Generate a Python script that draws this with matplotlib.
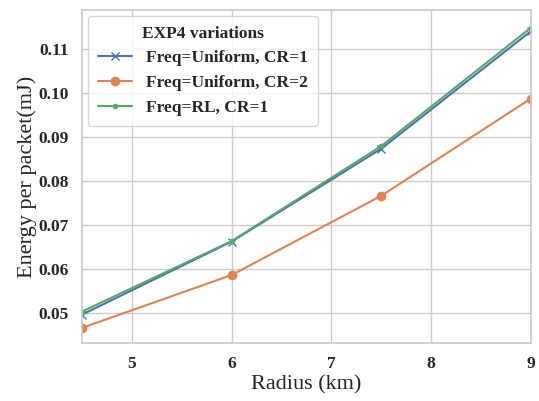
import numpy as np
import matplotlib
matplotlib.use('Agg')
import matplotlib.pyplot as plt
import seaborn as sns

# data
radius = [4.5, 6.0, 7.5, 9.0]
uniform_cr1 = [0.0496, 0.0662, 0.0873, 0.1140]
uniform_cr2 = [0.0466, 0.0586, 0.0766, 0.0987]
rl_cr1 = [0.0503, 0.0663, 0.0879, 0.1148]
labels = ['Freq=Uniform, CR=1', 'Freq=Uniform, CR=2', 'Freq=RL, CR=1']

sns.set_theme(style='whitegrid')
plt.rcParams['font.family'] = ['Liberation Serif', 'DejaVu Serif']
colors = sns.color_palette()

fig, ax = plt.subplots(figsize=(5.39, 4.01), dpi=100)

ax.plot(radius, uniform_cr1, marker='x', color=colors[0], lw=1.5, ms=6, label=labels[0])
ax.plot(radius, uniform_cr2, marker='o', color=colors[1], lw=1.5, ms=6, label=labels[1])
ax.plot(radius, rl_cr1, marker='.', color=colors[2], lw=1.5, ms=6, label=labels[2])

ax.set_xlim(4.5, 9.0)
ax.set_ylim(0.0432, 0.1188)
ax.set_xticks([5, 6, 7, 8, 9])
ax.set_yticks([0.05, 0.06, 0.07, 0.08, 0.09, 0.10, 0.11])
ax.set_yticklabels(['0.05', '0.06', '0.07', '0.08', '0.09', '0.10', '0.11'])
for t in ax.get_xticklabels() + ax.get_yticklabels():
    t.set_fontweight('bold')
    t.set_fontsize(12.5)

ax.set_xlabel('Radius (km)', fontsize=16, labelpad=2)
ax.set_ylabel('Energy per packet(mJ)', fontsize=16, labelpad=1)

leg = ax.legend(title='EXP4 variations', loc='upper left', prop={'weight': 'bold', 'size': 12.5},
                title_fontproperties={'weight': 'bold', 'size': 12.5}, frameon=True,
                borderpad=0.55, labelspacing=0.5, borderaxespad=0.35)

fig.subplots_adjust(left=0.152, right=0.985, top=0.975, bottom=0.145)
fig.savefig('out.png', dpi=100)
